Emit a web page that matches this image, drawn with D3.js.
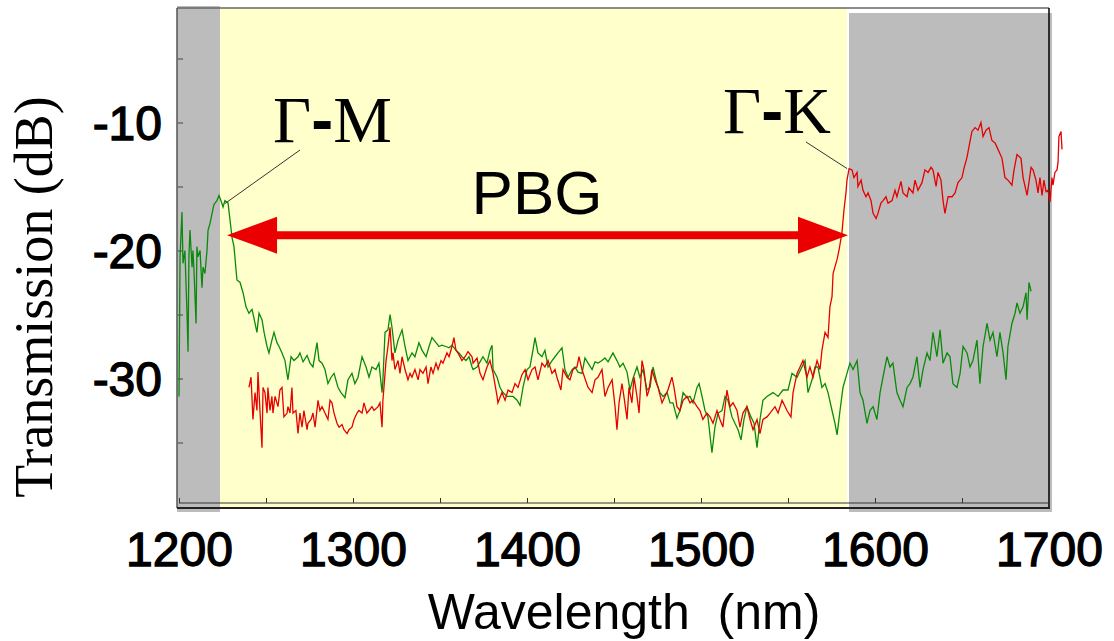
<!DOCTYPE html>
<html lang="en">
<head>
<meta charset="UTF-8">
<title>Transmission spectrum</title>
<script src="https://d3js.org/d3.v7.min.js"></script>
<style>
    html, body { margin: 0; padding: 0; background: #fff; }
    svg { display: block; }
    .sans { font-family: "Liberation Sans", Arial, sans-serif; }
    .serif { font-family: "Liberation Serif", "Times New Roman", serif; }
</style>
</head>
<body>
<svg id="chart" width="1114" height="641"></svg>
<script>
// wavelength (nm), transmission (dB)
var greenSeries = [
    [1200.0,-31.4],[1200.6,-20.5],[1201.7,-17.0],[1202.3,-21.0],[1203.4,-20.0],[1204.6,-24.9],[1205.2,-27.9],[1205.7,-20.5],
    [1206.3,-18.4],[1207.5,-21.3],[1208.0,-20.0],[1208.6,-21.5],[1209.8,-25.7],[1210.3,-19.7],[1210.9,-20.5],[1212.1,-20.0],
    [1213.2,-22.9],[1213.8,-21.3],[1214.9,-21.8],[1216.1,-20.0],[1216.7,-18.4],[1217.8,-17.9],[1219.0,-17.1],[1220.1,-16.4],
    [1221.8,-16.1],[1223.0,-15.7],[1224.1,-16.1],[1225.3,-16.6],[1226.4,-16.1],[1228.2,-16.3],[1229.3,-17.6],[1230.5,-19.0],
    [1231.6,-19.7],[1233.3,-22.3],[1235.1,-22.5],[1236.8,-23.3],[1238.5,-24.4],[1240.2,-24.9],[1242.0,-24.6],[1243.7,-25.7],
    [1244.8,-26.4],[1246.0,-24.9],[1247.7,-25.4],[1248.9,-26.4],[1250.6,-27.5],[1251.7,-28.0],[1253.4,-27.0],[1254.6,-26.4],
    [1256.3,-27.2],[1257.5,-27.5],[1259.2,-28.0],[1260.9,-28.6],[1262.6,-30.1],[1264.4,-28.3],[1266.1,-28.6],[1268.4,-28.3],
    [1269.5,-28.0],[1271.3,-28.7],[1273.6,-28.2],[1275.3,-28.8],[1277.0,-29.1],[1279.3,-27.2],[1280.5,-28.6],[1282.2,-28.8],
    [1283.9,-29.3],[1285.6,-30.4],[1287.4,-29.9],[1289.1,-29.6],[1291.4,-30.7],[1293.1,-31.1],[1295.4,-31.5],[1297.1,-30.1],
    [1299.4,-29.6],[1301.1,-30.4],[1302.9,-29.9],[1305.2,-28.3],[1307.5,-29.1],[1309.2,-29.9],[1310.9,-29.1],[1313.2,-29.3],
    [1314.9,-28.8],[1316.7,-31.1],[1317.2,-30.1],[1318.4,-26.4],[1320.1,-26.2],[1321.3,-25.0],[1322.4,-26.0],[1324.1,-28.0],
    [1325.9,-27.0],[1328.2,-26.2],[1329.9,-27.5],[1331.6,-28.6],[1333.9,-28.0],[1335.6,-28.3],[1337.9,-27.2],[1339.7,-27.8],
    [1342.0,-28.3],[1343.7,-27.5],[1345.4,-26.8],[1347.7,-27.2],[1349.4,-27.5],[1351.1,-27.4],[1353.4,-27.5],[1355.2,-27.6],
    [1356.9,-27.4],[1359.2,-27.8],[1360.9,-28.0],[1362.6,-28.3],[1364.9,-28.6],[1366.7,-28.3],[1368.4,-29.1],[1369.0,-29.3],
    [1371.3,-29.1],[1373.0,-28.7],[1374.7,-28.3],[1377.0,-28.8],[1378.7,-27.8],[1379.9,-27.4],[1380.5,-29.3],[1382.8,-29.9],
    [1384.5,-30.7],[1386.2,-31.1],[1388.5,-31.4],[1390.2,-31.4],[1392.0,-31.4],[1394.3,-31.7],[1396.0,-32.1],[1397.7,-30.7],
    [1400.0,-29.3],[1401.7,-29.1],[1403.4,-27.8],[1404.6,-26.8],[1406.3,-28.0],[1408.6,-28.3],[1410.3,-27.8],[1412.1,-29.1],
    [1414.4,-28.6],[1416.1,-28.3],[1417.8,-28.0],[1420.1,-27.6],[1421.8,-29.3],[1423.6,-29.9],[1425.9,-29.3],[1427.6,-29.1],
    [1429.3,-29.5],[1431.6,-29.6],[1433.3,-28.4],[1435.1,-28.8],[1437.4,-29.3],[1439.1,-28.7],[1440.8,-28.8],[1443.1,-28.6],
    [1444.8,-28.4],[1446.6,-28.7],[1449.4,-28.0],[1451.7,-28.6],[1453.4,-29.1],[1455.2,-28.8],[1457.5,-29.5],[1459.2,-30.9],
    [1460.9,-30.0],[1463.2,-29.1],[1464.9,-29.9],[1466.7,-29.3],[1469.0,-30.9],[1470.7,-30.7],[1472.4,-29.1],[1474.7,-30.4],
    [1476.4,-31.1],[1478.2,-31.4],[1480.5,-31.1],[1482.2,-31.9],[1483.9,-31.9],[1486.2,-33.1],[1487.9,-32.5],[1489.7,-31.1],
    [1492.0,-31.5],[1493.7,-31.4],[1495.4,-31.9],[1497.7,-30.7],[1498.9,-30.4],[1500.6,-31.4],[1502.3,-32.5],[1504.0,-33.0],
    [1506.3,-35.8],[1508.0,-33.8],[1509.8,-32.7],[1512.1,-32.5],[1513.8,-31.4],[1515.5,-31.7],[1517.8,-33.0],[1519.5,-33.5],
    [1521.3,-34.0],[1523.0,-34.8],[1524.7,-33.2],[1526.4,-32.2],[1528.7,-33.0],[1530.5,-33.5],[1532.2,-35.4],[1533.9,-33.2],
    [1535.6,-31.7],[1537.9,-31.4],[1541.4,-31.1],[1544.3,-31.4],[1547.1,-30.9],[1550.0,-30.9],[1552.3,-29.6],[1555.2,-29.9],
    [1558.0,-29.1],[1559.8,-28.6],[1561.5,-31.1],[1563.8,-30.1],[1565.5,-29.1],[1567.2,-29.1],[1569.5,-30.7],[1571.3,-30.4],
    [1573.0,-31.1],[1575.3,-32.5],[1577.0,-33.5],[1578.2,-34.4],[1579.9,-32.5],[1581.6,-30.7],[1583.9,-29.6],[1585.6,-28.8],
    [1587.4,-29.3],[1589.7,-28.6],[1591.4,-31.1],[1593.1,-31.7],[1595.4,-33.5],[1597.1,-32.5],[1598.9,-32.2],[1601.1,-33.2],
    [1602.9,-31.1],[1604.6,-29.9],[1606.9,-28.3],[1608.6,-29.1],[1610.3,-28.8],[1612.6,-31.1],[1614.4,-31.7],[1616.1,-32.2],
    [1618.4,-30.7],[1620.1,-30.4],[1621.8,-29.9],[1624.1,-28.3],[1625.9,-30.7],[1627.6,-29.3],[1629.9,-28.0],[1631.6,-28.6],
    [1633.3,-26.4],[1635.6,-28.3],[1637.4,-26.2],[1639.1,-28.8],[1641.4,-28.0],[1643.1,-28.3],[1644.8,-30.4],[1647.1,-30.7],
    [1648.9,-29.6],[1650.6,-27.5],[1652.9,-28.0],[1654.6,-29.1],[1656.3,-28.6],[1658.6,-27.0],[1660.3,-30.4],[1662.1,-27.5],
    [1664.4,-25.7],[1666.1,-27.0],[1667.8,-26.4],[1670.1,-28.3],[1671.8,-26.4],[1673.6,-28.0],[1675.3,-30.1],[1676.4,-27.5],
    [1678.7,-25.7],[1680.5,-24.9],[1681.6,-24.1],[1683.3,-24.9],[1685.1,-24.4],[1686.8,-23.3],[1687.4,-25.4],[1688.5,-22.5],
    [1689.7,-23.2]
];

var redSeries = [
    [1240.2,-30.7],[1241.4,-29.9],[1242.5,-33.2],[1243.7,-31.1],[1244.8,-32.5],[1245.4,-29.5],[1246.6,-32.7],[1247.7,-35.4],
    [1248.3,-30.7],[1249.4,-31.1],[1250.6,-32.7],[1251.1,-30.7],[1252.3,-32.5],[1253.4,-31.4],[1254.0,-32.7],[1255.2,-31.4],
    [1256.9,-32.2],[1258.0,-30.9],[1259.2,-30.7],[1260.3,-33.0],[1262.1,-32.7],[1262.6,-32.2],[1263.8,-32.7],[1264.9,-30.7],
    [1265.5,-32.7],[1267.2,-32.5],[1268.4,-34.3],[1269.5,-32.7],[1270.7,-33.8],[1271.8,-32.5],[1273.6,-34.0],[1274.1,-33.5],
    [1275.9,-33.2],[1277.0,-32.7],[1278.2,-33.8],[1279.9,-31.7],[1281.0,-32.5],[1282.2,-32.2],[1283.9,-32.7],[1285.6,-33.2],
    [1286.8,-31.7],[1287.9,-31.9],[1289.1,-32.7],[1290.8,-33.5],[1292.0,-33.8],[1293.7,-33.6],[1294.8,-34.0],[1296.6,-34.3],
    [1297.7,-34.0],[1299.4,-33.8],[1300.6,-33.2],[1302.3,-32.7],[1303.4,-32.5],[1305.2,-32.7],[1306.3,-31.9],[1308.0,-32.7],
    [1309.2,-32.5],[1310.9,-32.2],[1312.1,-32.5],[1314.4,-32.2],[1315.5,-31.9],[1316.7,-33.8],[1317.2,-31.7],[1319.0,-28.6],
    [1320.1,-27.5],[1321.3,-26.0],[1322.4,-28.6],[1323.0,-28.0],[1324.1,-29.3],[1325.9,-28.6],[1327.0,-29.6],[1328.2,-28.3],
    [1329.9,-29.3],[1331.6,-30.1],[1332.8,-29.6],[1333.9,-29.9],[1335.6,-29.3],[1337.4,-30.1],[1338.5,-29.3],[1340.2,-29.6],
    [1342.0,-29.1],[1343.1,-30.4],[1344.8,-29.1],[1346.0,-29.6],[1347.7,-28.8],[1348.9,-29.3],[1350.6,-28.6],[1351.7,-28.8],
    [1354.0,-28.0],[1355.2,-28.3],[1356.9,-27.5],[1358.0,-26.8],[1359.2,-27.8],[1360.3,-28.0],[1362.6,-28.6],[1364.4,-28.3],
    [1366.1,-27.9],[1368.4,-28.3],[1369.0,-28.8],[1371.3,-28.4],[1373.0,-29.6],[1374.7,-30.1],[1377.0,-29.1],[1378.7,-28.6],
    [1380.5,-29.6],[1382.8,-31.4],[1383.3,-31.9],[1385.6,-31.1],[1387.4,-31.7],[1389.1,-30.9],[1391.4,-31.1],[1393.1,-30.4],
    [1394.8,-30.7],[1397.1,-29.7],[1398.9,-29.3],[1400.6,-30.1],[1402.9,-29.3],[1404.6,-29.1],[1406.3,-30.1],[1408.6,-28.8],
    [1410.3,-29.1],[1412.1,-28.6],[1414.4,-29.6],[1416.1,-29.3],[1417.2,-29.9],[1419.5,-30.9],[1420.7,-29.3],[1423.0,-29.9],
    [1424.7,-30.1],[1426.4,-29.3],[1428.7,-29.1],[1429.9,-28.3],[1431.6,-29.3],[1433.3,-30.0],[1435.1,-30.7],[1437.4,-31.1],
    [1439.1,-30.1],[1440.8,-29.9],[1443.1,-29.3],[1444.8,-31.4],[1446.6,-30.7],[1448.9,-30.1],[1450.6,-32.2],[1451.7,-34.0],
    [1452.9,-31.9],[1454.6,-30.4],[1455.7,-31.4],[1457.5,-33.2],[1458.6,-30.7],[1460.3,-31.9],[1461.5,-29.9],[1463.2,-31.4],
    [1464.4,-32.7],[1466.1,-28.6],[1467.2,-29.3],[1469.0,-31.4],[1470.1,-30.9],[1471.8,-29.3],[1473.6,-30.1],[1475.3,-30.7],
    [1477.6,-31.9],[1479.3,-31.4],[1481.0,-30.9],[1483.3,-29.9],[1484.5,-30.7],[1486.2,-32.2],[1487.9,-32.5],[1489.7,-31.7],
    [1492.0,-31.4],[1493.7,-31.9],[1495.4,-31.7],[1497.7,-32.2],[1499.4,-32.5],[1501.1,-33.2],[1503.4,-32.7],[1505.2,-33.0],
    [1506.9,-33.5],[1509.2,-32.5],[1510.9,-33.2],[1512.6,-33.8],[1514.9,-30.9],[1516.7,-32.2],[1518.4,-31.9],[1520.7,-32.5],
    [1522.4,-33.8],[1524.1,-32.7],[1526.4,-32.2],[1528.2,-33.2],[1529.9,-34.0],[1532.2,-33.2],[1533.9,-34.3],[1535.6,-33.2],
    [1537.9,-33.0],[1539.7,-32.7],[1542.5,-32.2],[1544.3,-32.7],[1546.6,-31.7],[1549.4,-32.5],[1551.7,-33.0],[1552.9,-31.1],
    [1555.2,-29.6],[1556.9,-29.1],[1558.6,-28.6],[1560.9,-29.9],[1562.6,-29.1],[1564.4,-29.9],[1566.7,-28.6],[1568.4,-29.3],
    [1569.5,-27.8],[1571.3,-26.4],[1573.0,-26.8],[1574.1,-24.4],[1575.3,-23.6],[1575.9,-21.8],[1578.2,-20.7],[1579.3,-20.0],
    [1581.0,-18.6],[1582.2,-16.8],[1583.3,-15.5],[1583.9,-14.5],[1585.1,-13.6],[1586.8,-13.7],[1587.9,-14.3],[1589.7,-13.9],
    [1590.2,-15.0],[1592.0,-14.5],[1593.1,-15.3],[1594.8,-15.8],[1596.0,-15.5],[1597.7,-16.1],[1598.9,-17.1],[1600.6,-17.5],
    [1601.7,-17.1],[1603.4,-16.3],[1604.6,-16.1],[1606.3,-15.8],[1607.5,-16.3],[1609.8,-16.1],[1611.5,-15.3],[1612.6,-15.8],
    [1614.9,-14.6],[1616.1,-15.5],[1618.4,-15.8],[1619.5,-15.1],[1621.8,-15.5],[1623.0,-14.5],[1624.7,-15.3],[1627.0,-14.7],
    [1628.7,-13.7],[1630.5,-13.9],[1632.2,-13.5],[1633.3,-13.7],[1635.1,-15.0],[1636.2,-13.9],[1637.9,-14.5],[1639.1,-16.1],
    [1640.2,-17.1],[1642.0,-15.8],[1644.3,-15.8],[1646.0,-15.5],[1647.7,-14.7],[1650.0,-14.3],[1651.1,-13.6],[1652.9,-12.7],
    [1654.0,-11.9],[1655.7,-10.7],[1657.5,-10.4],[1659.2,-10.6],[1660.9,-10.0],[1662.1,-11.1],[1663.8,-10.6],[1665.5,-10.4],
    [1667.2,-11.4],[1669.0,-11.6],[1670.7,-12.1],[1673.0,-12.8],[1674.7,-14.3],[1676.4,-14.5],[1678.7,-14.9],[1679.9,-13.7],
    [1681.6,-12.5],[1683.9,-12.8],[1685.1,-14.3],[1687.4,-15.7],[1689.7,-13.5],[1690.8,-13.7],[1692.5,-14.5],[1693.7,-15.5],
    [1694.8,-14.3],[1696.0,-15.7],[1697.1,-14.5],[1698.3,-15.4],[1699.4,-15.3],[1700.6,-16.2],[1701.7,-14.3],[1702.3,-14.9],
    [1703.4,-13.9],[1704.6,-13.7],[1705.2,-13.1],[1705.7,-11.1],[1706.9,-10.7],[1707.5,-12.1]
];

var xTickLabels = [1200, 1300, 1400, 1500, 1600, 1700];
var xMinorTicks = [1200, 1250, 1300, 1350, 1400, 1450, 1500, 1550, 1600, 1650, 1700];
var yTickLabels = [-10, -20, -30];
var yMinorTicks = [-5, -10, -15, -20, -25, -30, -35];

// photonic band gap edges (nm) and the plot window
var gapStart = 1223.6, gapEnd = 1583.9, windowEnd = 1701.7;
var arrowLevel = -18.8;
var gmPeak = [1226.4, -16.1];
var gkPeak = [1585.1, -13.6];

var svg = d3.select("#chart");

var x = d3.scaleLinear().domain([1200, 1700]).range([179, 1049]);
var y = d3.scaleLinear().domain([-10, -30]).range([122.5, 378.5]);

var plotTop = 8, plotBottom = 508;

// shaded regions
svg.append("rect")
    .attr("x", 177).attr("y", 6)
    .attr("width", x(gapStart) - 177).attr("height", 506)
    .attr("fill", "#bcbcbc");
svg.append("rect")
    .attr("x", x(gapStart)).attr("y", plotTop)
    .attr("width", x(gapEnd) - x(gapStart)).attr("height", plotBottom - plotTop)
    .attr("fill", "#ffffcc");
svg.append("rect")
    .attr("x", x(gapEnd) + 2).attr("y", 13)
    .attr("width", x(windowEnd) - x(gapEnd) - 2).attr("height", 499)
    .attr("fill", "#bcbcbc");

// frame
svg.append("line").attr("x1", 177).attr("x2", 1049).attr("y1", plotTop).attr("y2", plotTop)
    .attr("stroke", "#666").attr("stroke-width", 1.5);
svg.append("line").attr("x1", 177).attr("x2", 177).attr("y1", plotTop).attr("y2", plotBottom)
    .attr("stroke", "#555").attr("stroke-width", 1.5);
svg.append("line").attr("x1", 1049).attr("x2", 1049).attr("y1", plotTop).attr("y2", plotBottom)
    .attr("stroke", "#000").attr("stroke-width", 1.5);
svg.append("line").attr("x1", 177).attr("x2", 1050).attr("y1", plotBottom).attr("y2", plotBottom)
    .attr("stroke", "#222").attr("stroke-width", 2);

var plainNumber = function(d) { return String(d); };

// x axis: minor ticks pointing up
var xAxisTicks = svg.append("g")
    .attr("transform", "translate(0," + (plotBottom - 5) + ")")
    .call(d3.axisBottom(x).tickValues(xMinorTicks).tickSize(-5).tickFormat(""));
xAxisTicks.select(".domain").attr("stroke", "#333").attr("d", "M179,0H1049");
xAxisTicks.selectAll(".tick line").attr("stroke", "#333");

var xAxisLabels = svg.append("g")
    .attr("transform", "translate(0," + plotBottom + ")")
    .call(d3.axisBottom(x).tickValues(xTickLabels).tickSize(0).tickFormat(plainNumber));
xAxisLabels.select(".domain").remove();
xAxisLabels.selectAll("text")
    .attr("class", "sans")
    .attr("y", 58).attr("dy", null)
    .attr("font-size", 48)
    .attr("fill", "#000")
    .attr("stroke", "#000")
    .attr("stroke-width", 1.3);

// y axis: small ticks pointing right
var yAxisTicks = svg.append("g")
    .attr("transform", "translate(178,0)")
    .call(d3.axisLeft(y).tickValues(yMinorTicks).tickSize(-5).tickFormat(""));
yAxisTicks.select(".domain").remove();
yAxisTicks.selectAll(".tick line").attr("stroke", "#444");

var yAxisLabels = svg.append("g")
    .attr("transform", "translate(162,0)")
    .call(d3.axisLeft(y).tickValues(yTickLabels).tickSize(0).tickPadding(0).tickFormat(plainNumber));
yAxisLabels.select(".domain").remove();
yAxisLabels.selectAll("text")
    .attr("class", "sans")
    .attr("dy", "0.36em")
    .attr("font-size", 48)
    .attr("fill", "#000")
    .attr("stroke", "#000")
    .attr("stroke-width", 1.3);

// traces
var line = d3.line()
    .x(function(d) { return x(d[0]); })
    .y(function(d) { return y(d[1]); });

svg.append("path")
    .datum(greenSeries)
    .attr("d", line)
    .attr("fill", "none")
    .attr("stroke", "#0a8a0a")
    .attr("stroke-width", 1.3);

svg.append("path")
    .datum(redSeries)
    .attr("d", line)
    .attr("fill", "none")
    .attr("stroke", "#e60000")
    .attr("stroke-width", 1.3);

// PBG double arrow
var arrowY = y(arrowLevel);
var headLen = 50, headHalf = 18.5;
var xl = x(gapStart) + 7, xr = x(gapEnd) + 1;
svg.append("line")
    .attr("x1", xl + headLen - 2).attr("x2", xr - headLen + 2)
    .attr("y1", arrowY).attr("y2", arrowY)
    .attr("stroke", "#ea0000").attr("stroke-width", 8);
svg.append("path")
    .attr("d", "M" + xl + "," + arrowY + "L" + (xl + headLen) + "," + (arrowY - headHalf) +
        "L" + (xl + headLen) + "," + (arrowY + headHalf) + "Z")
    .attr("fill", "#ea0000");
svg.append("path")
    .attr("d", "M" + xr + "," + arrowY + "L" + (xr - headLen) + "," + (arrowY - headHalf) +
        "L" + (xr - headLen) + "," + (arrowY + headHalf) + "Z")
    .attr("fill", "#ea0000");

svg.append("text")
    .attr("class", "sans")
    .attr("x", 537).attr("y", 214)
    .attr("text-anchor", "middle")
    .attr("font-size", 62)
    .text("PBG");

// leader lines and symmetry point labels
svg.append("line")
    .attr("x1", 300).attr("y1", 150)
    .attr("x2", x(gmPeak[0])).attr("y2", y(gmPeak[1]) + 3)
    .attr("stroke", "#333").attr("stroke-width", 1);
svg.append("line")
    .attr("x1", 806).attr("y1", 142)
    .attr("x2", x(gkPeak[0]) - 2).attr("y2", y(gkPeak[1]))
    .attr("stroke", "#333").attr("stroke-width", 1);

function pointLabel(px, py, letter) {
    var t = svg.append("text")
        .attr("class", "serif")
        .attr("x", px).attr("y", py)
        .attr("font-size", 66);
    t.append("tspan").text("Γ");
    t.append("tspan").attr("class", "sans").attr("font-weight", "bold").text("-");
    t.append("tspan").text(letter);
}
pointLabel(273, 142, "M");
pointLabel(723, 133, "K");

// axis titles
svg.append("text")
    .attr("class", "sans")
    .attr("x", 624).attr("y", 629)
    .attr("text-anchor", "middle")
    .attr("font-size", 50)
    .style("white-space", "pre")
    .text("Wavelength  (nm)");

svg.append("text")
    .attr("class", "serif")
    .attr("transform", "translate(52,297) rotate(-90)")
    .attr("text-anchor", "middle")
    .attr("font-size", 54)
    .text("Transmission (dB)");
</script>
</body>
</html>
